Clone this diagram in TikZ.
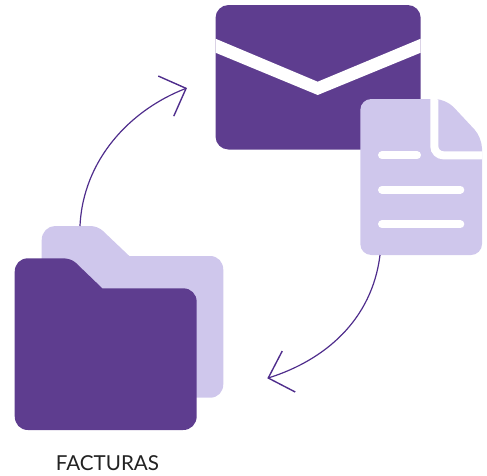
\documentclass[tikz,border=0pt]{standalone}
\usepackage{fontspec}
\setmainfont{Lato}
\usetikzlibrary{arrows.meta}
\definecolor{deep}{HTML}{5E3D8F}
\definecolor{pale}{HTML}{CFC7EC}
\definecolor{wire}{HTML}{4F2D8C}
\definecolor{ink}{HTML}{222222}
\tikzset{
  darkfill/.style={fill=deep,draw=none},
  palefill/.style={fill=pale,draw=none},
  whitebar/.style={draw=white,line width=8pt,line cap=round},
  flow/.style={draw=wire,line width=1.2pt,-{Straight Barb[length=21.5pt,width=43pt,line width=1.4pt]}},
  caption/.style={text=ink,font=\fontsize{20.6}{24}\selectfont,inner sep=0pt,anchor=base}
}
\begin{document}
\begin{tikzpicture}[x=1pt,y=-1pt]
\useasboundingbox (0,0) rectangle (487,475);
% envelope
\fill[darkfill,rounded corners=13] (215.5,5) rectangle (420.7,149.5);
\fill[white] (215.5,38.7) -- (317.7,81.7) -- (420.7,38.7) -- (420.7,52.7) -- (317.7,95) -- (215.5,52.7) -- cycle;
% document
\begin{scope}
\path[palefill,rounded corners=11] (360.3,99) -- (446,99) -- (482,137.5) -- (482,255) -- (360.3,255) -- cycle;
\clip[rounded corners=11] (360.3,99) -- (446,99) -- (482,137.5) -- (482,255) -- (360.3,255) -- cycle;
\draw[draw=white,line width=8pt,rounded corners=9] (434.3,90) -- (434.3,155.3) -- (490,155.3);
\end{scope}
\draw[whitebar] (382,155.3) -- (417,155.3);
\draw[whitebar] (382,189.7) -- (460.3,189.7);
\draw[whitebar] (382,224.3) -- (460.3,224.3);
% folders
\path[palefill] (41.7,240) .. controls (41.7,232) and (48,226) .. (55,226) -- (90,226)
  .. controls (95,226) and (100,228) .. (103,231) -- (129.3,256) -- (210,256)
  .. controls (218,256) and (223.3,262) .. (223.3,270) -- (223.3,384)
  .. controls (223.3,392) and (218,397.7) .. (210,397.7) -- (55,397.7)
  .. controls (48,397.7) and (41.7,392) .. (41.7,384) -- cycle;
\path[darkfill] (14.7,272) .. controls (14.7,264) and (20,258.3) .. (28,258.3) -- (63,258.3)
  .. controls (68,258.3) and (73,260) .. (76,263) -- (102.3,288.3) -- (183,288.3)
  .. controls (191,288.3) and (196.7,294) .. (196.7,302) -- (196.7,416)
  .. controls (196.7,424) and (191,430) .. (183,430) -- (28,430)
  .. controls (20,430) and (14.7,424) .. (14.7,416) -- cycle;
% connectors
\coordinate (folderTop) at (80,226);
\coordinate (mailTip) at (187,88);
\coordinate (docBottom) at (380,255);
\coordinate (folderTip) at (267.3,378.3);
\draw[flow] (folderTop) .. controls (83,160) and (130,110) .. (mailTip);
\draw[flow] (docBottom) .. controls (372,320) and (325,360) .. (folderTip);
\node[caption] (label) at (107.5,470.5) {FACTURAS};
\end{tikzpicture}
\end{document}
